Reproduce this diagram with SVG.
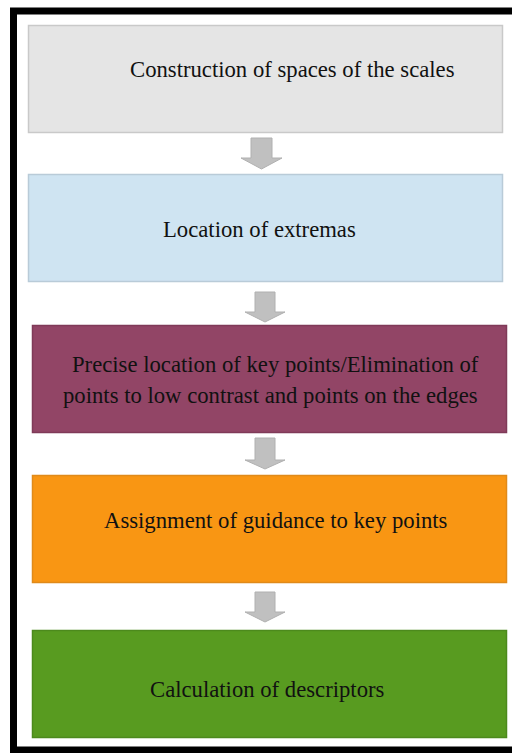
<svg xmlns="http://www.w3.org/2000/svg" width="512" height="753" viewBox="0 0 512 753">
<style>
.t{font-family:"Liberation Serif","Times New Roman",serif;font-size:22.7px;fill:#111}
.box{stroke-width:1.5}
.arr{fill:#c0c0c0;stroke:#b0b0b0;stroke-width:1}
</style>
<rect width="512" height="753" fill="#fff"/>
<rect x="13.5" y="11" width="600" height="739" fill="none" stroke="#000" stroke-width="7"/>
<g id="n1"><rect class="box" x="28.5" y="25.5" width="474" height="107" fill="#e5e5e5" stroke="#c9c9c9"/><text class="t" x="130" y="77">Construction of spaces of the scales</text></g>
<g id="n2"><rect class="box" x="28.5" y="174.5" width="474" height="107" fill="#cfe4f2" stroke="#b9cbd8"/><text class="t" x="163" y="237">Location of extremas</text></g>
<g id="n3"><rect class="box" x="32.5" y="325.5" width="474" height="107" fill="#924566" stroke="#7f3a58"/><text class="t" x="72" y="372">Precise location of key points/Elimination of</text><text class="t" x="63" y="403">points to low contrast and points on the edges</text></g>
<g id="n4"><rect class="box" x="32.5" y="475.5" width="474" height="107" fill="#f99613" stroke="#e08a1a"/><text class="t" x="104" y="528">Assignment of guidance to key points</text></g>
<g id="n5"><rect class="box" x="32.5" y="630.5" width="474" height="107" fill="#589b20" stroke="#4c8a1c"/><text class="t" x="150" y="697">Calculation of descriptors</text></g>
<g id="connectors">
<polygon class="arr" points="251,138 272,138 272,158 282,158 261.5,169 241,158 251,158"/>
<polygon class="arr" points="255,292 275,292 275,312 285,312 265,322 245,312 255,312"/>
<polygon class="arr" points="255,438 275,438 275,460 285,460 265,469 245,460 255,460"/>
<polygon class="arr" points="255,592 275,592 275,612 285,612 265,622 245,612 255,612"/>
</g>
</svg>
